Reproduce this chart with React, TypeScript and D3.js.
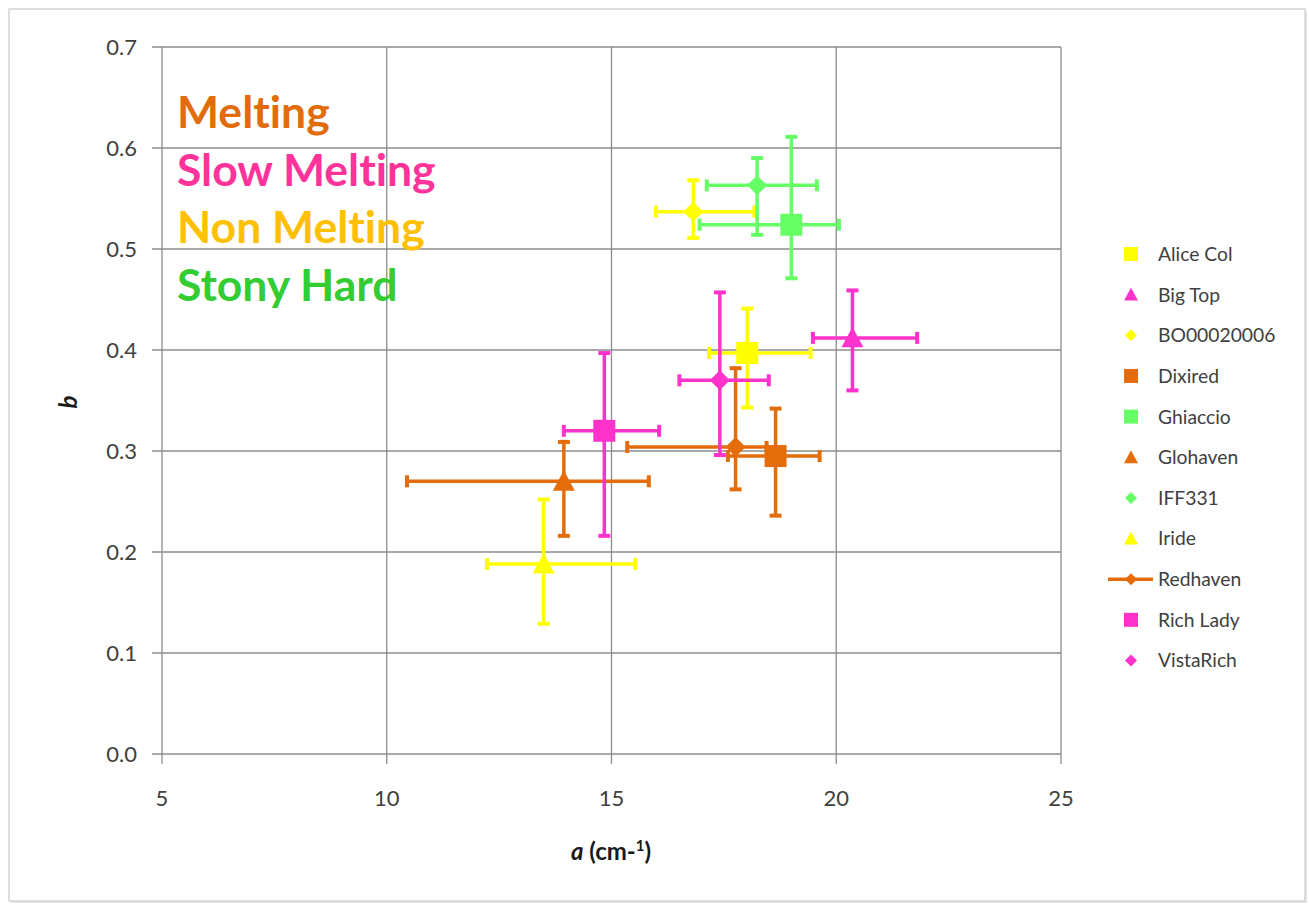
import * as d3 from 'd3';
import React, { useRef, useEffect } from 'react';

// series names, shapes and colours
const seriesNames = ["Alice Col", "Big Top", "BO00020006", "Dixired", "Ghiaccio", "Glohaven", "IFF331", "Iride", "Redhaven", "Rich Lady", "VistaRich"];
const seriesShapes = ["square", "triangle", "diamond", "square", "square", "triangle", "diamond", "triangle", "diamond", "square", "diamond"];
const seriesColors = ["#FFFF00", "#FF33CC", "#FFFF00", "#E46C0A", "#66FF66", "#E46C0A", "#66FF66", "#FFFF00", "#E46C0A", "#FF33CC", "#FF33CC"];

// a (cm-1) and b, with error bar ends
const aValues = [18.02, 20.36, 16.82, 18.65, 19.0, 13.94, 18.24, 13.49, 17.76, 14.84, 17.41];
const bValues = [0.397, 0.412, 0.537, 0.295, 0.524, 0.270, 0.563, 0.188, 0.304, 0.320, 0.370];
const aLow = [17.17, 19.48, 15.99, 17.59, 16.96, 10.45, 17.12, 12.23, 15.35, 13.94, 16.51];
const aHigh = [19.43, 21.80, 18.18, 19.63, 20.06, 15.83, 19.57, 15.53, 18.45, 16.06, 18.50];
const bLow = [0.343, 0.360, 0.511, 0.236, 0.471, 0.216, 0.514, 0.129, 0.262, 0.216, 0.296];
const bHigh = [0.441, 0.459, 0.568, 0.342, 0.611, 0.309, 0.590, 0.252, 0.382, 0.397, 0.457];

// axis ticks
const xTicks = [5, 10, 15, 20, 25];
const yTicks = [0, 0.1, 0.2, 0.3, 0.4, 0.5, 0.6, 0.7];

// category annotations
const groupLabels = ["Melting", "Slow Melting", "Non Melting", "Stony Hard"];
const groupColors = ["#E36C0A", "#FF3399", "#FFC000", "#33CC33"];

const FONT = "Lato, 'Open Sans', sans-serif";

function markerPath(shape: string, size: number) {
  const h = size / 2;
  if (shape === "square") return `M${-h},${-h}H${h}V${h}H${-h}Z`;
  if (shape === "triangle") return `M0,${-h}L${h},${h * 0.85}L${-h},${h * 0.85}Z`;
  return `M0,${-h}L${h},0L0,${h}L${-h},0Z`;
}

export default function App() {
  const svgRef = useRef<SVGSVGElement>(null);
  const width = 1309;
  const height = 905;
  const marginLeft = 162;
  const marginRight = 1061;
  const marginTop = 47;
  const marginBottom = 754;

  useEffect(() => {
    if (!svgRef.current) return;
    const svg = d3.select(svgRef.current);
    svg.selectAll("*").remove();

    const xScale = d3.scaleLinear().domain([5, 25]).range([marginLeft, marginRight]);
    const yScale = d3.scaleLinear().domain([0, 0.7]).range([marginBottom, marginTop]);

    // chart frame with a soft shadow
    svg.append("rect")
      .attr("x", 11).attr("y", 11).attr("width", 1296).attr("height", 892)
      .attr("fill", "#e4e4e4");
    svg.append("rect")
      .attr("x", 9).attr("y", 9).attr("width", 1296).attr("height", 892)
      .attr("fill", "white").attr("stroke", "#d4d4d4").attr("stroke-width", 1.5);

    // gridlines
    const grid = svg.append("g").attr("stroke", "#8c8c8c").attr("stroke-width", 1.3);
    grid.selectAll("line.h").data(yTicks).enter().append("line")
      .attr("x1", marginLeft - 10).attr("x2", marginRight)
      .attr("y1", d => yScale(d)).attr("y2", d => yScale(d));
    grid.selectAll("line.v").data(xTicks).enter().append("line")
      .attr("y1", marginTop).attr("y2", marginBottom + 10)
      .attr("x1", d => xScale(d)).attr("x2", d => xScale(d));

    // tick labels
    svg.append("g").selectAll("text").data(yTicks).enter().append("text")
      .attr("x", 137).attr("y", d => yScale(d)).attr("dy", "0.36em")
      .attr("text-anchor", "end").attr("font-family", FONT).attr("font-size", 22)
      .attr("fill", "#404040").text(d => d3.format(".1f")(d));
    svg.append("g").selectAll("text").data(xTicks).enter().append("text")
      .attr("x", d => xScale(d)).attr("y", 806)
      .attr("text-anchor", "middle").attr("font-family", FONT).attr("font-size", 22)
      .attr("fill", "#404040").text(d => d);

    // axis titles
    const xt = svg.append("text").attr("x", 611).attr("y", 860).attr("text-anchor", "middle")
      .attr("font-family", FONT).attr("font-size", 24).attr("font-weight", "bold").attr("fill", "#1a1a1a");
    xt.append("tspan").attr("font-style", "italic").text("a");
    xt.append("tspan").text(" (cm-");
    xt.append("tspan").attr("font-size", 15).attr("dy", -9).text("1");
    xt.append("tspan").attr("dy", 9).text(")");
    svg.append("text").attr("transform", "translate(77,402) rotate(-90)").attr("text-anchor", "middle")
      .attr("font-family", FONT).attr("font-size", 24).attr("font-weight", "bold").attr("font-style", "italic")
      .attr("fill", "#1a1a1a").text("b");

    // group annotations
    svg.append("g").selectAll("text").data(groupLabels).enter().append("text")
      .attr("x", 177).attr("y", (d, i) => 128 + i * 57.5)
      .attr("font-family", FONT).attr("font-size", 44.5).attr("font-weight", "bold")
      .style("font-variant-ligatures", "none")
      .attr("fill", (d, i) => groupColors[i]).text(d => d);

    // error bars and markers
    const idx = d3.range(seriesNames.length);
    const cap = 6;
    idx.forEach(i => {
      const g = svg.append("g").attr("stroke", seriesColors[i]).attr("fill", seriesColors[i]);
      const cx = xScale(aValues[i]);
      const cy = yScale(bValues[i]);
      const x0 = xScale(aLow[i]), x1 = xScale(aHigh[i]);
      const y0 = yScale(bLow[i]), y1 = yScale(bHigh[i]);
      g.append("line").attr("x1", x0).attr("x2", x1).attr("y1", cy).attr("y2", cy).attr("stroke-width", 3.5);
      g.append("line").attr("x1", cx).attr("x2", cx).attr("y1", y0).attr("y2", y1).attr("stroke-width", 3.5);
      [x0, x1].forEach(x => g.append("line").attr("x1", x).attr("x2", x).attr("y1", cy - cap).attr("y2", cy + cap).attr("stroke-width", 4));
      [y0, y1].forEach(y => g.append("line").attr("y1", y).attr("y2", y).attr("x1", cx - cap).attr("x2", cx + cap).attr("stroke-width", 4));
      const size = seriesShapes[i] === "diamond" ? 20 : 22;
      g.append("path").attr("d", markerPath(seriesShapes[i], size))
        .attr("transform", `translate(${cx},${cy})`).attr("stroke", "none");
    });

    // legend
    const legend = svg.append("g");
    idx.forEach(i => {
      const ly = 254 + i * 40.65;
      if (seriesNames[i] === "Redhaven") {
        legend.append("line").attr("x1", 1108).attr("x2", 1153).attr("y1", ly).attr("y2", ly)
          .attr("stroke", seriesColors[i]).attr("stroke-width", 3.5);
      }
      const size = seriesShapes[i] === "diamond" ? 12 : 14;
      legend.append("path").attr("d", markerPath(seriesShapes[i], size))
        .attr("transform", `translate(1131,${ly})`).attr("fill", seriesColors[i]);
      legend.append("text").attr("x", 1158).attr("y", ly).attr("dy", "0.36em")
        .attr("font-family", FONT).attr("font-size", 19.3).attr("fill", "#404040").text(seriesNames[i]);
    });
  }, []);

  return (
    <div style={{ position: "absolute", left: 0, top: 0 }}>
      <svg ref={svgRef} width={width} height={height} style={{ display: "block" }} />
    </div>
  );
}
